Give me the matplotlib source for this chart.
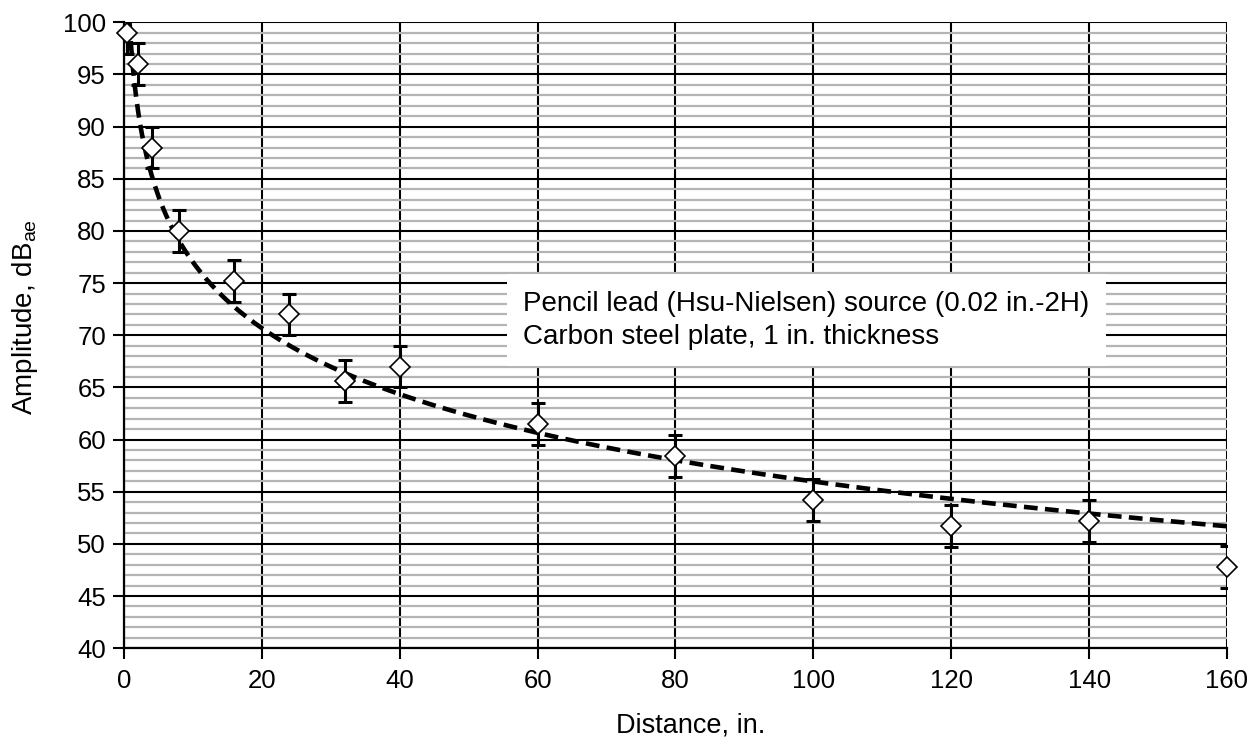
import matplotlib
matplotlib.use('Agg')
import matplotlib.pyplot as plt
from matplotlib.ticker import MultipleLocator
import numpy as np

plt.rcParams['font.family'] = ['Liberation Sans', 'DejaVu Sans']

# ── Data ─────────────────────────────────────────────────────────────────────
distance = [0.4, 2, 4, 8, 16, 24, 32, 40, 60, 80, 100, 120, 140, 160]
amplitude = [99.0, 96.0, 88.0, 80.0, 75.2, 72.0, 65.6, 67.0, 61.5, 58.4, 54.2, 51.7, 52.2, 47.8]
err = [2.0] * len(distance)

note = 'Pencil lead (Hsu-Nielsen) source (0.02 in.-2H)\nCarbon steel plate, 1 in. thickness'

# logarithmic trendline fitted to the points
b, a = np.polyfit(np.log(distance), amplitude, 1)
xf = np.linspace(0.5, 160, 600)
yf = a + b * np.log(xf)

# ── Plot ─────────────────────────────────────────────────────────────────────
fig = plt.figure(figsize=(12.52, 7.45), dpi=100)
ax = fig.add_axes([0.099, 0.130, 0.881, 0.840])

ax.plot(xf, yf, ls=(0, (3, 1.6)), color='black', lw=3.3, zorder=3)
ax.errorbar(distance, amplitude, yerr=err, fmt='none', ecolor='black',
            elinewidth=2.2, capsize=5, capthick=2.2, zorder=4)
ax.plot(distance, amplitude, 'D', ms=10, mfc='white', mec='black', mew=1.2,
        zorder=5, clip_on=False)

ax.set_xlim(0, 160)
ax.set_ylim(40, 100)
ax.xaxis.set_major_locator(MultipleLocator(20))
ax.yaxis.set_major_locator(MultipleLocator(5))
ax.yaxis.set_minor_locator(MultipleLocator(1))

ax.grid(which='minor', axis='y', color='#b4b4b4', lw=1.6, zorder=0)
ax.grid(which='major', axis='both', color='black', lw=1.5, zorder=1)
ax.set_axisbelow(True)

for side in ['top', 'right']:
    ax.spines[side].set_visible(False)
for side in ['left', 'bottom']:
    ax.spines[side].set_linewidth(1.6)

ax.tick_params(axis='both', which='major', labelsize=18.5, length=8, width=1.5, direction='out')
ax.tick_params(axis='y', which='minor', length=0)
ax.tick_params(axis='y', pad=5)
ax.tick_params(axis='x', pad=7)

ax.text(0.514, -0.123, 'Distance, in.', transform=ax.transAxes, fontsize=19.5,
        ha='center', va='center')
ax.text(-0.090, 0.529, 'Amplitude, dB$_{\\mathregular{ae}}$', transform=ax.transAxes,
        fontsize=20, ha='center', va='center', rotation=90)

ax.text(0.362, 0.524, note, transform=ax.transAxes, fontsize=20, linespacing=1.35,
        ha='left', va='center', zorder=6,
        bbox=dict(boxstyle='square,pad=0.6', fc='white', ec='none'))

fig.savefig('out.png', dpi=100)
